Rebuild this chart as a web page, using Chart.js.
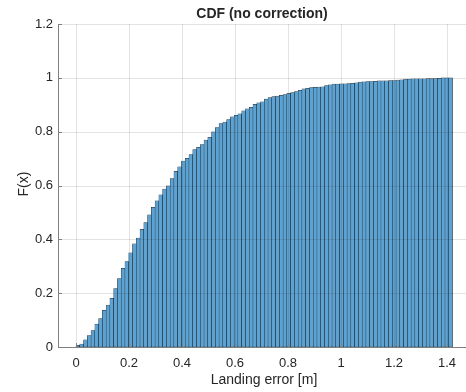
<!DOCTYPE html>
<html>
<head>
<meta charset="utf-8">
<script src="https://cdn.jsdelivr.net/npm/chart.js@4/dist/chart.umd.min.js"></script>
<style>
html,body{margin:0;padding:0;background:#fff;}
canvas{display:block;}
</style>
</head>
<body>
<canvas id="c" width="466" height="392"></canvas>
<script>
// ---- data ----
const binStart = 0;
const binWidth = 0.01421;
const cdfValues = [
  0.006, 0.011, 0.027, 0.042, 0.061, 0.085, 0.106, 0.136, 0.156, 0.181,
  0.217, 0.254, 0.292, 0.317, 0.350, 0.383, 0.405, 0.437, 0.462, 0.491,
  0.519, 0.543, 0.565, 0.587, 0.599, 0.626, 0.653, 0.669, 0.691, 0.701,
  0.715, 0.733, 0.742, 0.752, 0.769, 0.779, 0.799, 0.815, 0.830, 0.836,
  0.845, 0.855, 0.861, 0.866, 0.877, 0.885, 0.890, 0.902, 0.907, 0.911,
  0.921, 0.927, 0.930, 0.932, 0.935, 0.938, 0.942, 0.945, 0.949, 0.954,
  0.959, 0.961, 0.964, 0.965, 0.966, 0.967, 0.971, 0.974, 0.977, 0.977,
  0.978, 0.978, 0.979, 0.980, 0.981, 0.984, 0.985, 0.986, 0.986, 0.987,
  0.989, 0.989, 0.989, 0.990, 0.990, 0.992, 0.993, 0.995, 0.995, 0.996,
  0.996, 0.996, 0.996, 0.997, 0.997, 0.997, 0.998, 1.000, 1.000, 1.000
];
const xTickValues = [0, 0.2, 0.4, 0.6, 0.8, 1, 1.2, 1.4];
const yTickValues = [0, 0.2, 0.4, 0.6, 0.8, 1, 1.2];
const titleText = 'CDF (no correction)';
const xLabelText = 'Landing error [m]';
const yLabelText = 'F(x)';

const points = cdfValues.map((v, i) => ({ x: binStart + (i + 0.5) * binWidth, y: v }));

const FONT = '"Liberation Sans", Arial, Helvetica, sans-serif';
const TXT = '#262626';

const overlay = {
  id: 'overlay',
  afterDatasetsDraw(chart) {
    const ctx = chart.ctx;
    const a = chart.chartArea;
    const xs = chart.scales.x, ys = chart.scales.y;
    ctx.save();
    // grid lines on top (MATLAB style, faint)
    ctx.strokeStyle = 'rgba(38,38,38,0.13)';
    ctx.lineWidth = 1;
    ctx.beginPath();
    xTickValues.forEach(v => {
      const px = Math.round(xs.getPixelForValue(v)) + 0.5;
      ctx.moveTo(px, a.top); ctx.lineTo(px, a.bottom);
    });
    yTickValues.forEach(v => {
      if (v === 0) return;
      const py = Math.round(ys.getPixelForValue(v)) + 0.5;
      ctx.moveTo(a.left, py); ctx.lineTo(a.right, py);
    });
    ctx.stroke();
    // axis lines
    ctx.strokeStyle = '#808080';
    ctx.beginPath();
    ctx.moveTo(a.left + 0.5, a.top); ctx.lineTo(a.left + 0.5, a.bottom + 0.5);
    ctx.lineTo(a.right, a.bottom + 0.5);
    ctx.stroke();
    // inward ticks
    ctx.beginPath();
    yTickValues.forEach(v => {
      const py = Math.round(ys.getPixelForValue(v)) + 0.5;
      ctx.moveTo(a.left, py); ctx.lineTo(a.left + 4, py);
    });
    xTickValues.forEach(v => {
      const px = Math.round(xs.getPixelForValue(v)) + 0.5;
      ctx.moveTo(px, a.bottom); ctx.lineTo(px, a.bottom - 4);
    });
    ctx.stroke();
    // texts
    ctx.fillStyle = TXT;
    ctx.textAlign = 'center';
    ctx.textBaseline = 'middle';
    ctx.font = 'bold 14px ' + FONT;
    ctx.fillText(titleText, (a.left + a.right) / 2, 14.5);
    ctx.font = '14px ' + FONT;
    ctx.fillText(xLabelText, 264, 380);
    ctx.translate(24, 184);
    ctx.rotate(-Math.PI / 2);
    ctx.fillText(yLabelText, 0, 0);
    ctx.restore();
  }
};

new Chart(document.getElementById('c'), {
  type: 'bar',
  data: {
    datasets: [{
      data: points,
      backgroundColor: 'rgb(92,163,212)',
      borderColor: 'rgba(0,0,0,0.85)',
      borderWidth: 0.5,
      borderSkipped: false,
      barPercentage: 1,
      categoryPercentage: 1
    }]
  },
  options: {
    responsive: false,
    animation: false,
    events: [],
    layout: { padding: { top: 24, left: 0, right: 0, bottom: 0 } },
    plugins: { legend: { display: false }, tooltip: { enabled: false }, title: { display: false } },
    scales: {
      x: {
        type: 'linear',
        offset: false,
        min: -0.068,
        max: 1.4717,
        afterBuildTicks(s) { s.ticks = xTickValues.map(v => ({ value: v })); },
        afterFit(s) { s.height = 45; },
        grid: { display: false, drawTicks: false },
        border: { display: false },
        ticks: {
          autoSkip: false, maxRotation: 0, padding: 9,
          color: TXT, font: { family: FONT, size: 13 },
          callback: v => String(v)
        }
      },
      y: {
        type: 'linear',
        min: 0,
        max: 1.2,
        afterBuildTicks(s) { s.ticks = yTickValues.map(v => ({ value: v })); },
        afterFit(s) { s.width = 58; },
        grid: { display: false, drawTicks: false },
        border: { display: false },
        ticks: {
          padding: 5,
          color: TXT, font: { family: FONT, size: 13 },
          callback: v => String(v)
        }
      }
    }
  },
  plugins: [overlay]
});
</script>
</body>
</html>
